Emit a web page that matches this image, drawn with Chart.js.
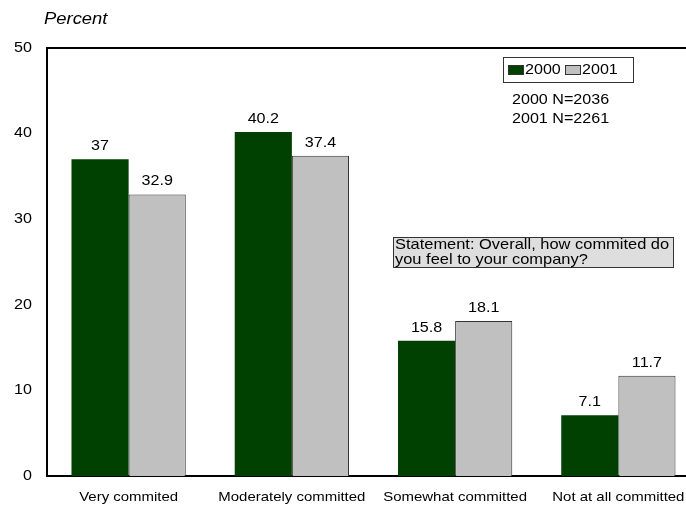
<!DOCTYPE html>
<html>
<head>
<meta charset="utf-8">
<script src="https://cdn.jsdelivr.net/npm/chart.js@4/dist/chart.umd.min.js"></script>
<style>
  html, body { margin: 0; padding: 0; background: #fff; overflow: hidden; width: 686px; height: 506px; }
  #wrap { position: relative; width: 686px; height: 506px; overflow: hidden; }
  #c { position: absolute; left: 0; top: 0; }
</style>
</head>
<body>
<div id="wrap"><canvas id="c" width="700" height="506"></canvas></div>
<script>
// Commitment levels and survey results (percent)
const categories = ['Very commited', 'Moderately committed', 'Somewhat committed', 'Not at all committed'];
const values2000 = [37, 40.2, 15.8, 7.1];
const values2001 = [32.9, 37.4, 18.1, 11.7];
const seriesLabels = ['2000', '2001'];
const yTicks = [0, 10, 20, 30, 40, 50];
const sampleNotes = ['2000 N=2036', '2001 N=2261'];
const statementLines = ['Statement: Overall, how commited do', 'you feel to your company?'];

const FONT = '"Liberation Sans", Arial, Helvetica, sans-serif';
const GREEN = '#004000';
const GRAY = '#C0C0C0';
const TEXT_WIDEN = 1.15; // horizontal widening applied to all lettering

const canvas = document.getElementById('c');
const context = canvas.getContext('2d');
// Widen every piece of text horizontally around its anchor point
(function (ctx) {
  const orig = ctx.fillText.bind(ctx);
  ctx.fillText = function (t, x, y, w) {
    ctx.save();
    ctx.translate(x, y);
    ctx.scale(TEXT_WIDEN, 1);
    if (w !== undefined && w !== null) orig(t, 0, 0, w / TEXT_WIDEN);
    else orig(t, 0, 0);
    ctx.restore();
  };
})(context);

// Value labels above each bar
const valueLabels = {
  id: 'valueLabels',
  afterDatasetsDraw(chart) {
    const ctx = chart.ctx;
    ctx.save();
    ctx.font = '14px ' + FONT;
    ctx.fillStyle = '#000';
    ctx.textAlign = 'center';
    ctx.textBaseline = 'alphabetic';
    chart.data.datasets.forEach((ds, i) => {
      chart.getDatasetMeta(i).data.forEach((bar, j) => {
        ctx.fillText(String(ds.data[j]), bar.x, bar.y - 9);
      });
    });
    ctx.restore();
  }
};

// Frame line along the top of the plot, legend box and notes
const decorations = {
  id: 'decorations',
  afterDraw(chart) {
    const ctx = chart.ctx;
    const a = chart.chartArea;
    ctx.save();
    // top frame
    ctx.strokeStyle = '#000';
    ctx.lineWidth = 2;
    ctx.beginPath();
    ctx.moveTo(a.left - 1, a.top);
    ctx.lineTo(a.right, a.top);
    ctx.stroke();

    // axis title
    ctx.font = 'italic 16px ' + FONT;
    ctx.fillStyle = '#000';
    ctx.textAlign = 'left';
    ctx.textBaseline = 'middle';
    ctx.fillText('Percent', 44, 20);

    // legend box
    ctx.fillStyle = '#fff';
    ctx.fillRect(503.5, 57.5, 130, 25);
    ctx.strokeStyle = '#333';
    ctx.lineWidth = 1;
    ctx.strokeRect(503.5, 57.5, 130, 25);
    ctx.font = '14px ' + FONT;
    ctx.textBaseline = 'middle';
    const swatchX = [508, 565];
    chart.data.datasets.forEach((ds, i) => {
      const x = swatchX[i];
      ctx.fillStyle = ds.backgroundColor;
      ctx.fillRect(x, 65, 16, 10);
      ctx.strokeStyle = '#333';
      ctx.strokeRect(x + 0.5, 65.5, 15, 9);
      ctx.fillStyle = '#000';
      ctx.fillText(ds.label, x + 17, 70);
    });

    // sample sizes
    sampleNotes.forEach((t, i) => ctx.fillText(t, 512, 100 + i * 19));

    // statement box
    ctx.fillStyle = '#DEDEDE';
    ctx.fillRect(393.5, 237.5, 280, 30);
    ctx.strokeStyle = '#333';
    ctx.strokeRect(393.5, 237.5, 280, 30);
    ctx.fillStyle = '#000';
    ctx.font = '14.3px ' + FONT;
    statementLines.forEach((t, i) => ctx.fillText(t, 395, 245.5 + i * 15));
    ctx.restore();
  }
};

new Chart(canvas, {
  type: 'bar',
  data: {
    labels: categories,
    datasets: [
      { label: seriesLabels[0], data: values2000, backgroundColor: GREEN, borderColor: GREEN, borderWidth: 0 },
      { label: seriesLabels[1], data: values2001, backgroundColor: GRAY, borderColor: '#333', borderWidth: 1 }
    ]
  },
  options: {
    responsive: false,
    animation: false,
    events: [],
    layout: { padding: { top: 48, left: 0, right: 0, bottom: 0 } },
    datasets: { bar: { categoryPercentage: 0.7, barPercentage: 1.0 } },
    plugins: { legend: { display: false }, tooltip: { enabled: false } },
    scales: {
      x: {
        grid: { display: false, drawTicks: false },
        border: { display: true, color: '#000', width: 2 },
        ticks: { color: '#000', font: { family: FONT, size: 13 }, padding: 14, maxRotation: 0, autoSkip: false },
        afterFit(s) { s.height = 30; }
      },
      y: {
        min: 0, max: 50,
        afterBuildTicks(s) { s.ticks = yTicks.map(v => ({ value: v })); },
        grid: { display: false, drawTicks: false },
        border: { display: true, color: '#000', width: 2 },
        ticks: { color: '#000', font: { family: FONT, size: 14 }, padding: 15 },
        afterFit(s) { s.width = 47; }
      }
    }
  },
  plugins: [valueLabels, decorations]
});
</script>
</body>
</html>
